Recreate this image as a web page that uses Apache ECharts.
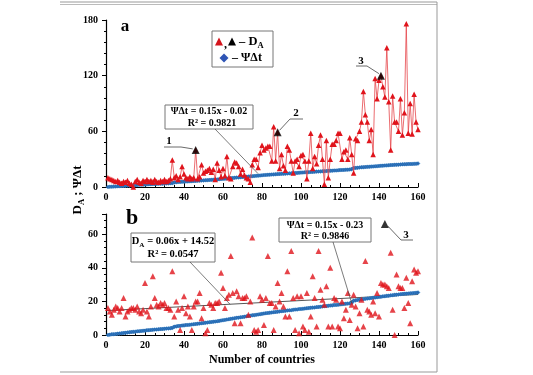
<!DOCTYPE html>
<html><head><meta charset="utf-8">
<script src="https://cdn.jsdelivr.net/npm/echarts@6/dist/echarts.min.js"></script>
<style>html,body{margin:0;padding:0;background:#fff}#c{width:533px;height:375px}</style>
</head><body><div id="c"></div>
<script>
// Country rank (x) 1..160
const countries = [];
for (let i = 1; i <= 160; i++) countries.push(i);

// Panel a: D_A (red, connected)
const daA = [
 10, 9, 8, 7, 6, 7, 5, 4, 6, 5,
 7, 4, 3, 0, 6, 8, 5, 4, 7, 6,
 8, 6, 7, 5, 8, 6, 5, 7, 6, 8,
 6, 7, 9, 29, 10, 12, 8, 11, 22, 14,
 10, 9, 11, 9, 10, 40, 9, 11, 24, 15,
 17, 18, 20, 16, 19, 8, 26, 18, 11, 20,
 12, 33, 10, 9, 22, 27, 26, 22, 14, 19,
 13, 10, 9, 5, 24, 30, 30, 21, 37, 45,
 40, 42, 44, 44, 28, 65, 28, 59, 20, 35,
 23, 18, 44, 40, 28, 15, 28, 30, 22, 34,
 35, 28, 9, 28, 58, 20, 33, 25, 45, 56,
 30, 3, 50, 10, 30, 46, 46, 50, 58, 58,
 30, 38, 40, 30, 53, 35, 15, 52, 50, 60,
 70, 103, 78, 70, 50, 62, 35, 117, 95, 115,
 120, 108, 97, 150, 92, 40, 98, 70, 70, 60,
 95, 56, 80, 176, 58, 90, 57, 100, 70, 62
];
// ΨΔt (blue)
const psi = [
 0.0, 0.2, 0.4, 0.5, 0.6, 0.8, 0.9, 1.0, 1.2, 1.3,
 1.5, 1.6, 1.8, 1.9, 2.0, 2.2, 2.3, 2.4, 2.5, 2.6,
 2.8, 2.9, 3.0, 3.1, 3.2, 3.3, 3.4, 3.5, 3.6, 3.7,
 3.8, 3.9, 4.0, 4.1, 4.9, 5.1, 5.3, 5.4, 5.6, 5.7,
 5.9, 6.0, 6.1, 6.3, 6.4, 6.5, 6.7, 6.8, 7.0, 7.1,
 7.3, 7.4, 7.6, 7.7, 7.9, 8.0, 8.2, 8.4, 8.6, 8.8,
 9.0, 9.2, 9.4, 9.6, 9.8, 10.0, 10.2, 10.3, 10.5, 10.7,
 10.9, 11.1, 11.3, 11.5, 11.7, 11.8, 12.0, 12.2, 12.4, 12.6,
 12.8, 13.0, 13.1, 13.3, 13.4, 13.6, 13.7, 13.9, 14.0, 14.2,
 14.3, 14.4, 14.6, 14.7, 14.8, 15.0, 15.1, 15.2, 15.4, 15.5,
 15.6, 15.8, 15.9, 16.0, 16.2, 16.3, 16.4, 16.6, 16.7, 16.8,
 17.0, 17.1, 17.2, 17.4, 17.5, 17.6, 17.8, 17.9, 18.0, 18.2,
 18.3, 18.4, 18.6, 18.7, 18.8, 19.0, 20.4, 20.6, 20.8, 21.0,
 21.2, 21.3, 21.5, 21.7, 21.8, 22.0, 22.2, 22.3, 22.5, 22.7,
 22.8, 23.0, 23.1, 23.3, 23.4, 23.6, 23.7, 23.9, 24.0, 24.1,
 24.3, 24.4, 24.5, 24.6, 24.7, 24.8, 24.9, 25.0, 25.1, 25.3
];
// Panel b: D_A (red scatter)
const daB = [
 16, 14, 12, 15, 17, 16, 14, 16, 22, 11,
 14, 15, 16, 16, 15, 17, 14, 13, 15, 31,
 14, 11, 17, 35, 22, 18, 17, 19, 18, 19,
 16, 16, 15, 38, 11, 20, 15, 3, 16, 23,
 13, 17, 11, 3, 17, 20, 20, 25, 10, 16,
 1, 3, 19, 18, 16, 19, 19, 20, 37, 28,
 16, 22, 24, 47, 25, 7, 26, 23, 7, 22,
 22, 23, 12, 20, 58, 3, 2, 3, 23, 21,
 6, 22, 47, 19, 19, 3, 17, 31, 20, 25,
 17, 11, 38, 11, 50, 22, 3, 23, 1, 23,
 5, 3, 25, 2, 11, 35, 22, 5, 50, 27,
 21, 18, 29, 5, 40, 5, 22, 21, 5, 4,
 20, 10, 15, 25, 9, 18, 24, 17, 4, 13,
 21, 5, 44, 15, 14, 12, 20, 13, 25, 11,
 31, 30, 30, 29, 28, 49, 15, 0, 36, 29,
 28, 28, 16, 34, 19, 7, 32, 39, 37, 38
];
// Highlighted (black) points
const hlA = [46, 88, 141];
const hlB = [[143, 66]];
// Linear trend of D_A in panel b (end points)
const trendB = [[0, 14.5], [160, 24.1]];
const xTicks = { min: 0, max: 160, step: 20 };

const SERIF = 'Liberation Serif';
const chart = echarts.init(document.getElementById('c'), null, { renderer: 'canvas' });

const ptsA = countries.map((x, i) => [x, daA[i]]);
const ptsPsi = countries.map((x, i) => [x, psi[i]]);
const ptsB = countries.map((x, i) => [x, daB[i]]);
const ptsHlA = hlA.map(x => [x, daA[x - 1]]);

function xAxis(gi, withName) {
  return {
    type: 'value', gridIndex: gi, min: xTicks.min, max: xTicks.max, interval: xTicks.step,
    axisLine: { show: true, lineStyle: { color: '#000', width: 1.2 } },
    axisTick: { show: true, inside: true, length: 4, lineStyle: { color: '#000' } },
    minorTick: { show: true, splitNumber: 4, length: 2, lineStyle: { color: '#000' } },
    splitLine: { show: false },
    axisLabel: { color: '#000', fontFamily: SERIF, fontWeight: 'bold', fontSize: 10, margin: 5 },
    name: withName ? 'Number of countries' : '',
    nameLocation: 'middle', nameGap: 19,
    nameTextStyle: { color: '#000', fontFamily: SERIF, fontWeight: 'bold', fontSize: 12 }
  };
}
function yAxis(gi, max, interval, minorSplit) {
  return {
    type: 'value', gridIndex: gi, min: 0, max: max, interval: interval,
    axisLine: { show: true, lineStyle: { color: '#000', width: 1.2 } },
    axisTick: { show: true, length: 4, lineStyle: { color: '#000' } },
    minorTick: { show: true, splitNumber: minorSplit, length: 2, lineStyle: { color: '#000' } },
    splitLine: { show: false },
    axisLabel: { color: '#000', fontFamily: SERIF, fontWeight: 'bold', fontSize: 10, margin: 8, showMaxLabel: max % interval === 0 }
  };
}

const blueLine = { color: '#163f80', width: 3 };
const blueItem = { color: '#2566b0', borderColor: '#4a9ad8', borderWidth: 0.4 };

const option = {
  animation: false,
  grid: [
    { left: 106, width: 312, top: 20, height: 167 },
    { left: 106, width: 312, top: 214, height: 121 }
  ],
  xAxis: [xAxis(0, false), xAxis(1, true)],
  yAxis: [yAxis(0, 180, 60, 5), yAxis(1, 72, 20, 5)],
  series: [
    { type: 'line', xAxisIndex: 0, yAxisIndex: 0, data: ptsPsi, symbol: 'diamond', symbolSize: 4, showAllSymbol: true,
      lineStyle: blueLine, itemStyle: blueItem, z: 2 },
    { type: 'line', xAxisIndex: 0, yAxisIndex: 0, data: ptsA, symbol: 'triangle', symbolSize: 5.5, showAllSymbol: true,
      lineStyle: { color: '#e6464b', width: 0.8 }, itemStyle: { color: '#e0141c' }, z: 3 },
    { type: 'scatter', xAxisIndex: 0, yAxisIndex: 0, data: ptsHlA, symbol: 'triangle', symbolSize: 8,
      itemStyle: { color: '#000' }, z: 4 },
    { type: 'line', xAxisIndex: 1, yAxisIndex: 1, data: trendB, symbol: 'none',
      lineStyle: { color: '#555', width: 1 }, z: 2 },
    { type: 'line', xAxisIndex: 1, yAxisIndex: 1, data: ptsPsi, symbol: 'diamond', symbolSize: 4, showAllSymbol: true,
      lineStyle: blueLine, itemStyle: blueItem, z: 3 },
    { type: 'scatter', xAxisIndex: 1, yAxisIndex: 1, data: ptsB, symbol: 'triangle', symbolSize: 6,
      itemStyle: { color: '#e0141c' }, z: 4 },
    { type: 'scatter', xAxisIndex: 1, yAxisIndex: 1, data: hlB, symbol: 'triangle', symbolSize: 8,
      itemStyle: { color: '#000' }, z: 4 }
  ]
};
chart.setOption(option);

const P = (gi, v) => chart.convertToPixel({ gridIndex: gi }, v);
const txt = (x, y, t, size, extra) => Object.assign({ type: 'text', x: x, y: y,
  style: { text: t, fill: '#000', font: 'bold ' + size + 'px "' + SERIF + '"', textAlign: 'center', textVerticalAlign: 'middle' }, z: 10 }, extra || {});
const line = (x1, y1, x2, y2, c, w) => ({ type: 'line', shape: { x1: x1, y1: y1, x2: x2, y2: y2 },
  style: { stroke: c || '#444', lineWidth: w || 0.8 }, z: 9 });
const box = (x, y, w, h) => ({ type: 'rect', shape: { x: x, y: y, width: w, height: h },
  style: { fill: '#fff', stroke: '#777', lineWidth: 1 }, z: 9 });
const poly = (pts, fill) => ({ type: 'polygon', shape: { points: pts }, style: { fill: fill }, z: 10 });
const tri = (cx, cy, fill) => poly([[cx, cy - 4.5], [cx + 4, cy + 3.5], [cx - 4, cy + 3.5]], fill);
const dia = (cx, cy, fill) => poly([[cx, cy - 4.5], [cx + 4.5, cy], [cx, cy + 4.5], [cx - 4.5, cy]], fill);
const richTxt = (x, y, t, size, align) => ({ type: 'text', x: x, y: y, z: 10,
  style: { text: t, textAlign: align || 'center', textVerticalAlign: 'middle', fill: '#000',
    rich: {
      n: { fontFamily: SERIF, fontWeight: 'bold', fontSize: size || 10.5, lineHeight: 16, verticalAlign: 'middle' },
      s: { fontFamily: SERIF, fontWeight: 'bold', fontSize: (size || 10.5) * 0.68, lineHeight: 16, verticalAlign: 'bottom' }
    } } });

const pt1 = P(0, [46, daA[45]]), pt2 = P(0, [88, daA[87]]), pt3 = P(0, [141, daA[140]]);
const boxAEnd = P(0, [78, psi[77]]);
const b1End = P(1, [63.6, 18.3]);
const b2End = P(1, [126, psi[125]]);
const hb = P(1, hlB[0]);

const g = [
  // frame
  line(60, 2, 437, 2, '#999', 1), line(60, 4.5, 437, 4.5, '#bbb', 1),
  line(437, 2, 437, 372, '#999', 1), line(60, 372, 437, 372, '#999', 1),
  // panel letters
  txt(125, 27, 'a', 17),
  txt(132, 218, 'b', 22),
  // y axis name
  { type: 'text', x: 78, y: 190, rotation: Math.PI / 2, z: 10,
    style: { text: '{n|D}{s|A}{n| ; ΨΔt}', textAlign: 'center', textVerticalAlign: 'middle', fill: '#000',
      rich: { n: { fontFamily: SERIF, fontWeight: 'bold', fontSize: 13, lineHeight: 16, verticalAlign: 'middle' },
              s: { fontFamily: SERIF, fontWeight: 'bold', fontSize: 8.5, lineHeight: 16, verticalAlign: 'bottom' } } } },
  // legend
  box(212, 31, 61, 36),
  tri(219, 42, '#d4141c'),
  txt(225.5, 45, ',', 12),
  tri(232, 42, '#000'),
  richTxt(239, 42, '{n|– D}{s|A}', 12.5, 'left'),
  dia(224, 58, '#2f55b5'),
  txt(232, 58, '– ΨΔt', 12, { style: { text: '– ΨΔt', fill: '#000', font: 'bold 12px "' + SERIF + '"', textAlign: 'left', textVerticalAlign: 'middle' } }),
  // regression box a
  box(165, 105, 88, 24),
  txt(209, 111, 'ΨΔt = 0.15x - 0.02', 10),
  txt(212, 123, 'R² = 0.9821', 10),
  line(215, 129, boxAEnd[0], boxAEnd[1] - 2, '#444', 0.7),
  // annotations 1,2,3 (panel a)
  txt(169, 141, '1', 11),
  line(164, 147, 181, 147, '#444', 0.8), line(181, 147, pt1[0] - 3, pt1[1] - 1, '#444', 0.8),
  txt(296, 113, '2', 11),
  line(290, 119, 303, 119, '#444', 0.8), line(290, 119, pt2[0] + 2, pt2[1] - 2, '#444', 0.8),
  txt(361, 61, '3', 11),
  line(356, 66, 367, 66, '#444', 0.8), line(367, 66, pt3[0] - 2, pt3[1] - 2, '#444', 0.8),
  // regression boxes b
  box(131, 233, 84, 29),
  richTxt(173, 241, '{n|D}{s|A}{n| = 0.06x + 14.52}'),
  txt(173, 254, 'R² = 0.0547', 10.5),
  line(190, 262, b1End[0], b1End[1], '#444', 0.7),
  box(279, 218, 92, 24),
  txt(325, 225, 'ΨΔt = 0.15x - 0.23', 10),
  txt(325, 236, 'R² = 0.9846', 10),
  line(333, 242, b2End[0], b2End[1], '#444', 0.7),
  // annotation 3 (panel b)
  txt(406, 235, '3', 11),
  line(hb[0] + 3, hb[1] + 2, 401, 240, '#444', 0.8), line(401, 240, 413, 240, '#444', 0.8)
];
chart.setOption({ graphic: { elements: g } });
</script></body></html>
